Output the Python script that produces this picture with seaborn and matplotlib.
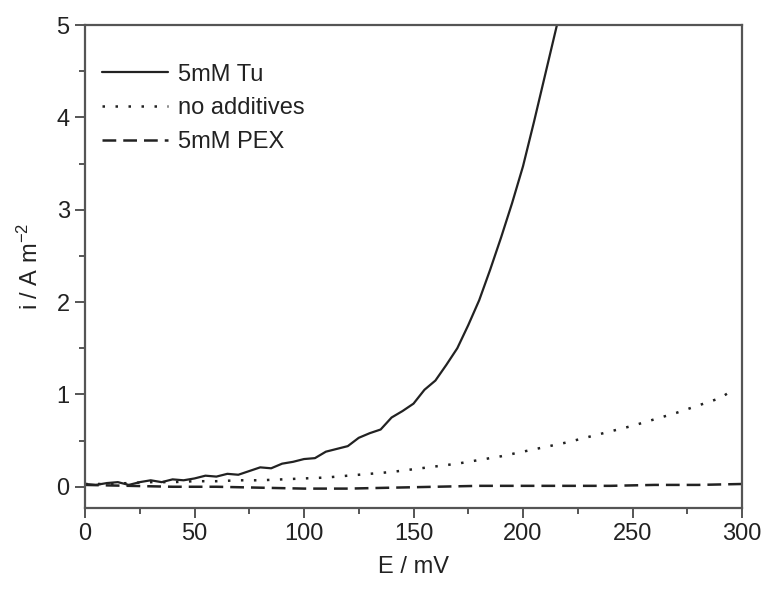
import matplotlib
matplotlib.use("Agg")
import matplotlib.pyplot as plt
import seaborn as sns
import pandas as pd
from matplotlib.ticker import MultipleLocator

# --- data ---
E_tu = [0, 5, 10, 15, 20, 25, 30, 35, 40, 45, 50, 55, 60, 65, 70, 75, 80, 85, 90, 95,
        100, 105, 110, 115, 120, 125, 130, 135, 140, 145, 150, 155, 160, 165, 170, 175,
        180, 185, 190, 195, 200, 205, 210, 213, 216]
i_tu = [0.03, 0.02, 0.04, 0.05, 0.02, 0.05, 0.07, 0.05, 0.08, 0.07, 0.09, 0.12, 0.11, 0.14,
        0.13, 0.17, 0.21, 0.2, 0.25, 0.27, 0.3, 0.31, 0.38, 0.41, 0.44, 0.53, 0.58, 0.62,
        0.75, 0.82, 0.9, 1.05, 1.15, 1.32, 1.5, 1.75, 2.02, 2.35, 2.7, 3.07, 3.47, 3.95,
        4.45, 4.75, 5.05]

E_none = [0, 10, 20, 30, 40, 50, 60, 70, 80, 90, 100, 110, 120, 130, 140, 150, 160, 170,
          180, 190, 200, 210, 220, 230, 240, 250, 260, 270, 280, 290, 296]
i_none = [0.03, 0.03, 0.04, 0.05, 0.05, 0.06, 0.06, 0.07, 0.07, 0.08, 0.09, 0.1, 0.12, 0.14,
          0.16, 0.19, 0.22, 0.25, 0.29, 0.33, 0.38, 0.43, 0.48, 0.54, 0.6, 0.66, 0.73, 0.8,
          0.88, 0.96, 1.05]

E_pex = [0, 20, 40, 60, 80, 100, 120, 140, 160, 180, 200, 220, 240, 260, 280, 300]
i_pex = [0.02, 0.01, 0.0, 0.0, -0.01, -0.02, -0.02, -0.01, 0.0, 0.01, 0.01, 0.01, 0.01,
         0.02, 0.02, 0.03]

labels = ["5mM Tu", "no additives", "5mM PEX"]
x_ticks = [0, 50, 100, 150, 200, 250, 300]
y_ticks = [0, 1, 2, 3, 4, 5]

sns.set_theme(style="white")
plt.rcParams["font.family"] = ["Liberation Sans", "DejaVu Sans"]
plt.rcParams["mathtext.fontset"] = "custom"
plt.rcParams["mathtext.rm"] = "Liberation Sans"
plt.rcParams["mathtext.it"] = "Liberation Sans:italic"

fig = plt.figure(figsize=(7.67, 5.94), dpi=100)
ax = fig.add_axes([85 / 767, 1 - 508 / 594, (742 - 85) / 767, (508 - 25) / 594])

line_c = "#222222"
spine_c = "#555555"

df_tu = pd.DataFrame({"E": E_tu, "i": i_tu})
df_none = pd.DataFrame({"E": E_none, "i": i_none})
df_pex = pd.DataFrame({"E": E_pex, "i": i_pex})

sns.lineplot(data=df_tu, x="E", y="i", ax=ax, color=line_c, lw=1.6, label=labels[0])
sns.lineplot(data=df_none, x="E", y="i", ax=ax, color=line_c, lw=1.8,
             linestyle=(0, (1, 4.2)), label=labels[1])
sns.lineplot(data=df_pex, x="E", y="i", ax=ax, color=line_c, lw=1.8,
             linestyle=(0, (5.5, 2.8)), label=labels[2])

ax.set_xlim(0, 300)
ax.set_ylim(-0.23, 5)
ax.set_xticks(x_ticks)
ax.set_yticks(y_ticks)
ax.xaxis.set_minor_locator(MultipleLocator(25))
ax.yaxis.set_minor_locator(MultipleLocator(0.5))

for s in ax.spines.values():
    s.set_color(spine_c)
    s.set_linewidth(1.6)

ax.tick_params(axis="both", which="major", direction="out", length=7, width=1.4,
               color=spine_c, labelsize=17, labelcolor="#222222", pad=4,
               bottom=True, left=True, top=False, right=False)
ax.tick_params(axis="both", which="minor", direction="out", length=4, width=1.4,
               color=spine_c, bottom=True, left=True, top=False, right=False)

ax.set_xlabel("E / mV", fontsize=17, color="#222222", labelpad=8)
ax.set_ylabel(r"i / A m$^{-2}$", fontsize=17, color="#222222", labelpad=10)

leg = ax.legend(loc="upper left", frameon=False, fontsize=17, handlelength=2.8,
                handletextpad=0.45, labelspacing=0.49, borderaxespad=0.3,
                bbox_to_anchor=(0.0, 0.954))
for t in leg.get_texts():
    t.set_color("#222222")

fig.savefig("out.png", dpi=100)
